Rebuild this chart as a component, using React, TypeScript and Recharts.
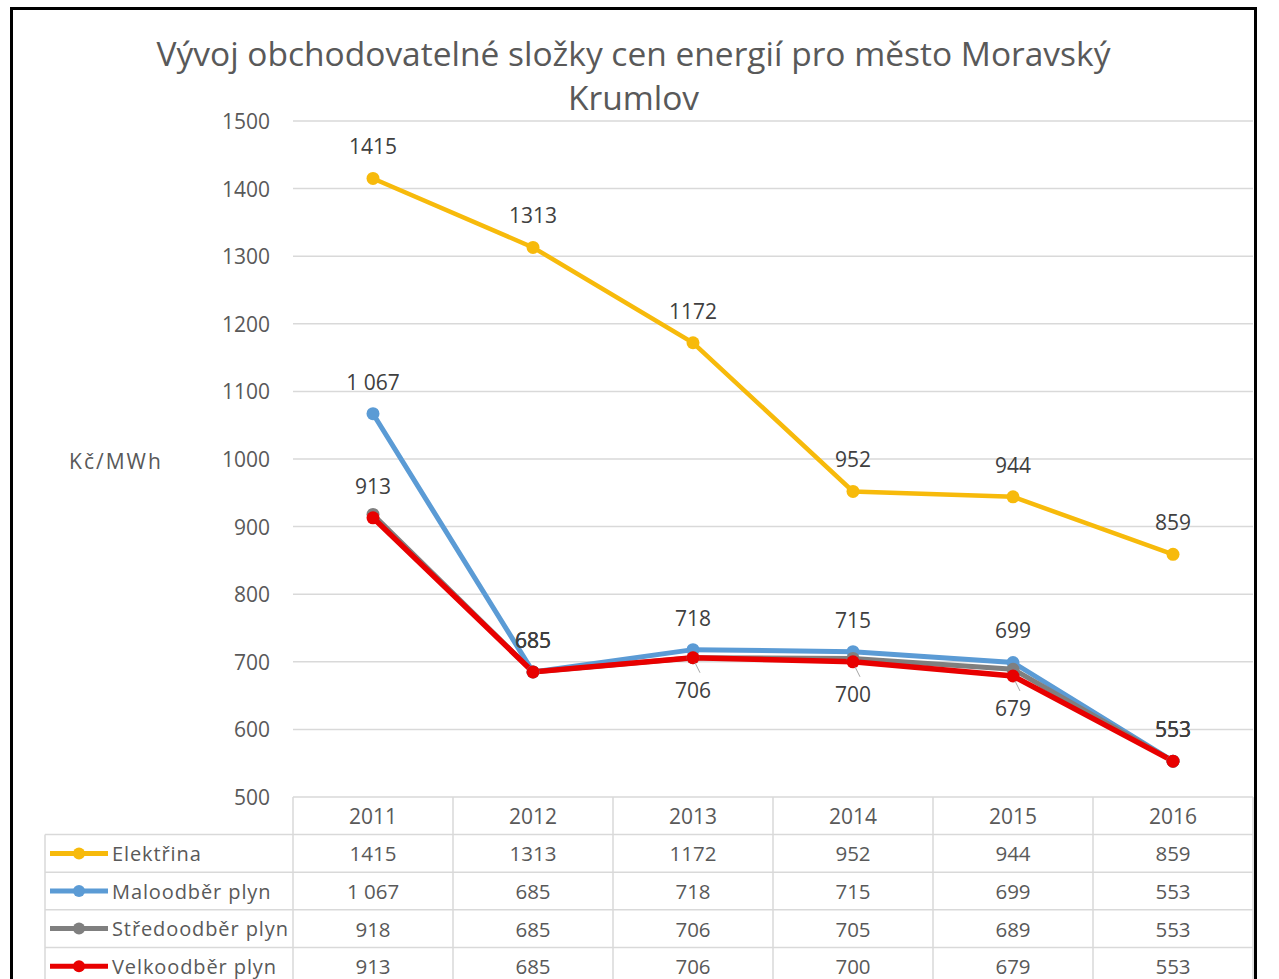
import React from 'react';
import { ComposedChart, Line, XAxis, YAxis, CartesianGrid, LabelList } from 'recharts';

const YEARS = ['2011', '2012', '2013', '2014', '2015', '2016'];
const ELEKTRINA = [1415, 1313, 1172, 952, 944, 859];
const MALOODBER = [1067, 685, 718, 715, 699, 553];
const STREDOODBER = [918, 685, 706, 705, 689, 553];
const VELKOODBER = [913, 685, 706, 700, 679, 553];
const Y_TICKS = [500, 600, 700, 800, 900, 1000, 1100, 1200, 1300, 1400, 1500];

const TITLE_1 = 'Vývoj obchodovatelné složky cen energií pro město Moravský';
const TITLE_2 = 'Krumlov';
const Y_LABEL = 'Kč/MWh';

type Pos = 'top' | 'bottom' | 'none';

const SERIES = [
  { key: 'elektrina', name: 'Elektřina', color: '#F7BA0B', width: 4.5, values: ELEKTRINA, sep: false,
    labels: ['top', 'top', 'top', 'top', 'top', 'top'] as Pos[] },
  { key: 'malo', name: 'Maloodběr plyn', color: '#5B9BD5', width: 5, values: MALOODBER, sep: true,
    labels: ['top', 'top', 'top', 'top', 'top', 'top'] as Pos[] },
  { key: 'stredo', name: 'Středoodběr plyn', color: '#7F7F7F', width: 5, values: STREDOODBER, sep: false,
    labels: ['none', 'top', 'none', 'none', 'none', 'top'] as Pos[] },
  { key: 'velko', name: 'Velkoodběr plyn', color: '#E80000', width: 5.5, values: VELKOODBER, sep: false,
    labels: ['top', 'top', 'bottom', 'bottom', 'bottom', 'top'] as Pos[] },
];

const data = YEARS.map((year, i) => {
  const row: any = { year };
  SERIES.forEach((s) => { row[s.key] = s.values[i]; });
  return row;
});

const FONT = '"Open Sans", sans-serif';
const TEXT = '#595959';
const LABEL = '#404040';
const GRID = '#D9D9D9';

const CHART_W = 1279;
const CHART_H = 979;
const MARGIN = { top: 121, right: 26, bottom: 0, left: 213 };
const YAXIS_W = 80;
const XAXIS_H = 182;
const PLOT_W = CHART_W - MARGIN.left - MARGIN.right - YAXIS_W;
const BAND = PLOT_W / YEARS.length;
const ROW_H = 37.6;
const TABLE_H = 200;
const LEGEND_W = 248;
const LABEL_OFF = 32;

const fmt = (v: number, sep: boolean) =>
  sep ? String(v).replace(/\B(?=(\d{3})+(?!\d))/g, ' ') : String(v);

function TableTick(props: any) {
  const { x, y, payload, index } = props;
  const left = x - BAND / 2;
  const right = x + BAND / 2;
  const els: React.ReactNode[] = [];
  els.push(<line key="vl" x1={left} x2={left} y1={y} y2={y + TABLE_H} stroke={GRID} strokeWidth={1.5} />);
  if (index === YEARS.length - 1) {
    els.push(<line key="vr" x1={right} x2={right} y1={y} y2={y + TABLE_H} stroke={GRID} strokeWidth={1.5} />);
  }
  SERIES.forEach((s, r) => {
    const ly = y + ROW_H * (r + 1);
    els.push(<line key={'h' + r} x1={left} x2={right} y1={ly} y2={ly} stroke={GRID} strokeWidth={1.5} />);
    els.push(
      <text key={'t' + r} x={x} y={ly + ROW_H / 2} textAnchor="middle" dominantBaseline="central"
        fill={TEXT} fontSize={20.5} fontFamily={FONT}>
        {fmt(s.values[index], s.sep)}
      </text>
    );
  });
  els.push(
    <text key="yr" x={x} y={y + ROW_H / 2} textAnchor="middle" dominantBaseline="central"
      fill={TEXT} fontSize={21} fontFamily={FONT}>
      {payload.value}
    </text>
  );
  if (index === 0) {
    const lx = left - LEGEND_W;
    els.push(<line key="lv" x1={lx} x2={lx} y1={y + ROW_H} y2={y + TABLE_H} stroke={GRID} strokeWidth={1.5} />);
    SERIES.forEach((s, r) => {
      const ly = y + ROW_H * (r + 1);
      const cy = ly + ROW_H / 2;
      els.push(<line key={'lh' + r} x1={lx} x2={left} y1={ly} y2={ly} stroke={GRID} strokeWidth={1.5} />);
      els.push(<line key={'lm' + r} x1={lx + 5} x2={lx + 63} y1={cy} y2={cy} stroke={s.color} strokeWidth={5} />);
      els.push(<circle key={'lc' + r} cx={lx + 34} cy={cy} r={6} fill={s.color} />);
      els.push(
        <text key={'lt' + r} x={lx + 67} y={cy} dominantBaseline="central" fill={TEXT}
          fontSize={20} letterSpacing={0.9} fontFamily={FONT}>
          {s.name}
        </text>
      );
    });
  }
  return <g>{els}</g>;
}

function YTick(props: any) {
  const { x, y, payload } = props;
  return (
    <text x={x} y={y} textAnchor="end" dominantBaseline="central" fill={TEXT} fontSize={21} fontFamily={FONT}>
      {payload.value}
    </text>
  );
}

function makeLabel(positions: Pos[], sep: boolean) {
  return (p: any) => {
    const pos = positions[p.index];
    if (pos === 'none' || p.x == null) return null;
    const ty = pos === 'top' ? p.y - LABEL_OFF : p.y + LABEL_OFF;
    return (
      <g>
        {pos === 'bottom' && (
          <line x1={p.x + 2} y1={p.y + 5} x2={p.x + 7} y2={p.y + 15} stroke="#A6A6A6" strokeWidth={1} />
        )}
        <text x={p.x} y={ty} textAnchor="middle" dominantBaseline="central" fill={LABEL}
          fontSize={21} fontFamily={FONT}>
          {fmt(p.value, sep)}
        </text>
      </g>
    );
  };
}

export default function App() {
  return (
    <div style={{ position: 'fixed', left: 0, top: 0, width: CHART_W, height: CHART_H, background: '#fff', overflow: 'hidden' }}>
      <div style={{ position: 'absolute', left: 10, top: 7, width: 1247, height: 1000, border: '3px solid #000', boxSizing: 'border-box' }} />
      <div style={{ position: 'absolute', left: 10, top: 31, width: 1247, textAlign: 'center', fontFamily: FONT,
        fontSize: 33.5, lineHeight: '44px', color: TEXT, whiteSpace: 'nowrap' }}>
        {TITLE_1}<br />{TITLE_2}
      </div>
      <div style={{ position: 'absolute', left: 0, top: 0 }}>
        <ComposedChart width={CHART_W} height={CHART_H} data={data} margin={MARGIN}>
          <CartesianGrid vertical={false} stroke={GRID} strokeWidth={1.5} />
          <XAxis dataKey="year" scale="band" height={XAXIS_H} axisLine={false} tickLine={false} tickSize={0} tickMargin={0}
            interval={0} tick={<TableTick />} />
          <YAxis width={YAXIS_W} domain={[500, 1500]} ticks={Y_TICKS} axisLine={false} tickLine={false}
            tickSize={0} tickMargin={23} interval={0} tick={<YTick />}
            label={(lp: any) => {
              const vb = lp.viewBox || { x: 213, y: 121, height: 676 };
              return (
                <text x={vb.x - 97} y={vb.y + vb.height / 2 + 2} textAnchor="middle" dominantBaseline="central"
                  fill={TEXT} fontSize={21} letterSpacing={2} fontFamily={FONT}>{Y_LABEL}</text>
              );
            }} />
          {SERIES.map((s) => (
            <Line key={s.key} dataKey={s.key} name={s.name} stroke={s.color} strokeWidth={s.width}
              dot={{ r: 6.5, fill: s.color, stroke: s.color, strokeWidth: 0 }} activeDot={false}
              isAnimationActive={false}>
              <LabelList dataKey={s.key} content={makeLabel(s.labels, s.sep)} />
            </Line>
          ))}
        </ComposedChart>
      </div>
    </div>
  );
}
